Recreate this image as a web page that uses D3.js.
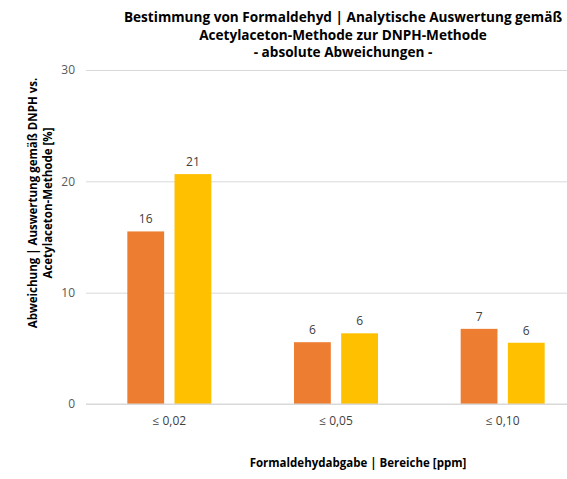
<!DOCTYPE html>
<html>
<head>
<meta charset="utf-8">
<script src="https://cdn.jsdelivr.net/npm/d3@7"></script>
<style>
  html, body { margin: 0; padding: 0; background: #fff; }
  svg { display: block; font-family: "Open Sans", "Noto Sans", sans-serif; }
</style>
</head>
<body>
<svg id="chart"></svg>
<script>
// Data
const categories = ["≤ 0,02", "≤ 0,05", "≤ 0,10"];
const seriesNames = ["A", "B"];
const seriesA = [15.5, 5.55, 6.75];
const seriesB = [20.65, 6.35, 5.5];
const yTicks = [0, 10, 20, 30];
const colors = ["#ED7D31", "#FFC000"];

const titleLines = [
  "Bestimmung von Formaldehyd | Analytische Auswertung gemäß",
  "Acetylaceton-Methode zur DNPH-Methode",
  "- absolute Abweichungen -"
];
const yTitleLines = ["Abweichung | Auswertung gemäß DNPH vs.", "Acetylaceton-Methode [%]"];
const xTitle = "Formaldehydabgabe | Bereiche [ppm]";

const width = 567, height = 479;
const plot = { left: 86, right: 586, top: 70, bottom: 404 };

const svg = d3.select("#chart").attr("width", width).attr("height", height);

const rows = categories.map((c, i) => ({ cat: c, values: [seriesA[i], seriesB[i]] }));

const x0 = d3.scaleBand().domain(categories).range([plot.left, plot.right]);
const groupW = 84;
const x1 = d3.scaleBand().domain(seriesNames)
  .range([(x0.bandwidth() - groupW) / 2, (x0.bandwidth() + groupW) / 2])
  .paddingInner(0.22);
const y = d3.scaleLinear().domain([0, 30]).range([plot.bottom, plot.top]);

// gridlines
svg.append("g")
  .attr("transform", `translate(${plot.left},0)`)
  .call(d3.axisLeft(y).tickValues(yTicks).tickSize(-(plot.right - plot.left)).tickFormat(""))
  .call(g => {
    g.select(".domain").remove();
    g.selectAll("line").attr("stroke", "#d9d9d9");
  });

// y tick labels
svg.append("g")
  .selectAll("text")
  .data(yTicks)
  .join("text")
  .attr("x", 75)
  .attr("y", d => y(d))
  .attr("dy", "0.35em")
  .attr("text-anchor", "end")
  .attr("fill", "#595959")
  .style("font-size", "12px")
  .text(d => d);

// bars
const grp = svg.append("g")
  .selectAll("g")
  .data(rows)
  .join("g")
  .attr("transform", d => `translate(${x0(d.cat)},0)`);

grp.selectAll("rect")
  .data(d => d.values.map((v, i) => ({ key: seriesNames[i], v, i })))
  .join("rect")
  .attr("x", d => x1(d.key))
  .attr("y", d => y(d.v))
  .attr("width", x1.bandwidth())
  .attr("height", d => y(0) - y(d.v))
  .attr("fill", d => colors[d.i]);

grp.selectAll("text.lbl")
  .data(d => d.values.map((v, i) => ({ key: seriesNames[i], v, i })))
  .join("text")
  .attr("class", "lbl")
  .attr("x", d => x1(d.key) + x1.bandwidth() / 2)
  .attr("y", d => y(d.v) - 8)
  .attr("text-anchor", "middle")
  .attr("fill", "#404040")
  .style("font-size", "12px")
  .text(d => d3.format(".0f")(d.v));

// baseline
svg.append("line")
  .attr("x1", plot.left).attr("x2", plot.right)
  .attr("y1", y(0)).attr("y2", y(0))
  .attr("stroke", "#d9d9d9");

// category labels
svg.append("g")
  .selectAll("text")
  .data(categories)
  .join("text")
  .attr("x", d => x0(d) + x0.bandwidth() / 2)
  .attr("y", 425)
  .attr("text-anchor", "middle")
  .attr("fill", "#404040")
  .style("font-size", "12px")
  .text(d => d);

// title (runs past the right edge, as in the reference)
svg.append("text")
  .attr("x", 343)
  .attr("y", 22)
  .attr("text-anchor", "middle")
  .attr("fill", "#000")
  .style("font-size", "13.6px")
  .style("font-weight", "bold")
  .selectAll("tspan")
  .data(titleLines)
  .join("tspan")
  .attr("x", 343)
  .attr("dy", (d, i) => i ? 17.5 : 0)
  .text(d => d);

// y axis title
svg.append("text")
  .attr("transform", "translate(37,203) rotate(-90)")
  .attr("text-anchor", "middle")
  .attr("fill", "#000")
  .style("font-size", "11.5px")
  .style("font-weight", "bold")
  .selectAll("tspan")
  .data(yTitleLines)
  .join("tspan")
  .attr("x", 0)
  .attr("dy", (d, i) => i ? 15 : 0)
  .text(d => d);

// x axis title
svg.append("text")
  .attr("x", 358)
  .attr("y", 467)
  .attr("text-anchor", "middle")
  .attr("fill", "#000")
  .style("font-size", "11.5px")
  .style("font-weight", "bold")
  .text(xTitle);
</script>
</body>
</html>
